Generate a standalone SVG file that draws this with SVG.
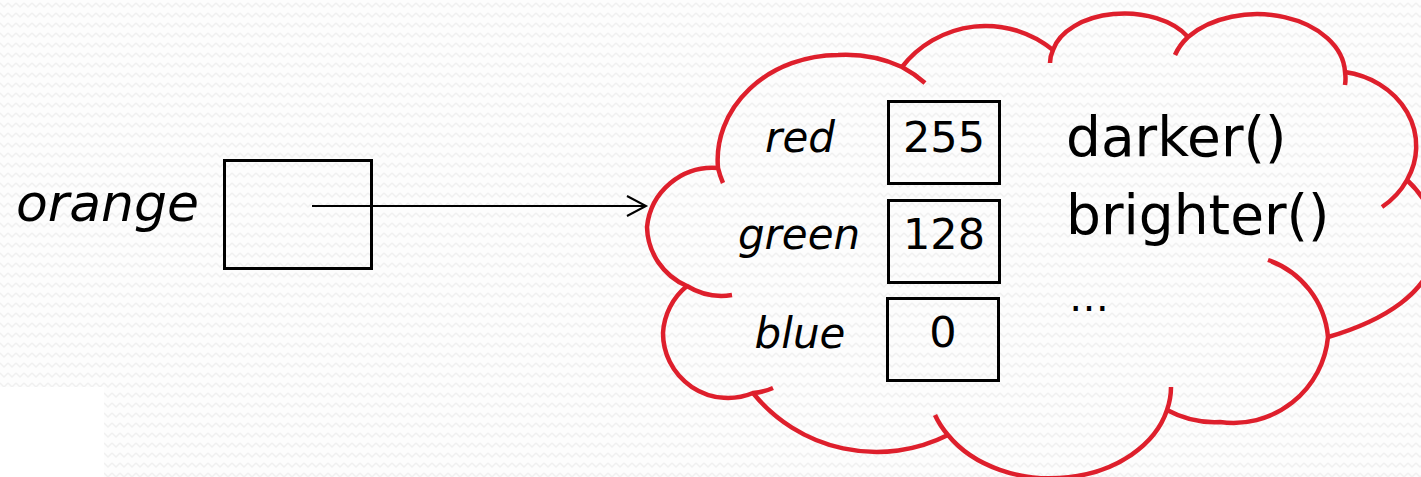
<svg xmlns="http://www.w3.org/2000/svg" width="1421" height="477" viewBox="0 0 1421 477">
  <defs>
    <pattern id="zigzag" width="8" height="10" patternUnits="userSpaceOnUse">
      <rect width="8" height="10" fill="#fdfdfd"/>
      <polyline points="0,3 4,7 8,3" fill="none" stroke="#f0f0f0" stroke-width="1.5"/>
    </pattern>
    <marker id="open-arrow" markerUnits="userSpaceOnUse" markerWidth="24" markerHeight="26" viewBox="-2 -2 24 26" refX="19" refY="11" orient="auto">
      <polyline points="0,1 19,11 0,21" fill="none" stroke="#000" stroke-width="2"/>
    </marker>
  </defs>
  <style>
    .t { font-family: "DejaVu Sans", Verdana, sans-serif; fill: #000; }
    .it { font-style: italic; }
    .mid { text-anchor: middle; }
    .box { fill: none; stroke: #000; stroke-width: 3; }
    .lobe { fill: none; stroke: #de1f2c; stroke-width: 4.5; }
    .wire { fill: none; stroke: #000; stroke-width: 2; }
  </style>

  <!-- backdrop -->
  <rect width="1421" height="477" fill="url(#zigzag)"/>
  <rect x="0" y="387" width="104" height="90" fill="#ffffff"/>

  <!-- variable holding the reference -->
  <g id="orange-var">
    <text class="t it" x="16" y="221" font-size="52">orange</text>
    <rect class="box" x="224.5" y="160.5" width="147" height="108"/>
  </g>

  <!-- the Color object -->
  <g id="color-object">
    <g id="cloud">
      <path class="lobe" d="M732,295 A66,66 0 0 1 687,286 A66,66 0 0 1 647,227 A66,66 0 0 1 718,168"/>
      <path class="lobe" d="M723,183 A121,105 0 0 1 718,168 A121,105 0 0 1 838,55 A121,105 0 0 1 902,67 A121,105 0 0 1 925,83"/>
      <path class="lobe" d="M902,67 A106,106 0 0 1 1053,50"/>
      <path class="lobe" d="M1050,63 A73,46 0 0 1 1053,50 A73,46 0 0 1 1188,37"/>
      <path class="lobe" d="M1175,55 A88,60 0 0 1 1188,37 A88,60 0 0 1 1345,72 A88,60 0 0 1 1345,85"/>
      <path class="lobe" d="M1345,72 A85,75 0 0 1 1407,180 A85,75 0 0 1 1382,207"/>
      <path class="lobe" d="M1407,180 C1455,225 1455,300 1328,337"/>
      <path class="lobe" d="M1268,260 A90,90 0 0 1 1328,337 A95,95 0 0 1 1220,422 A100,100 0 0 1 1167,410"/>
      <path class="lobe" d="M1171,387 A120,90 0 0 1 1167,410 A120,90 0 0 1 948,435 A120,90 0 0 1 935,415"/>
      <path class="lobe" d="M948,435 A159,159 0 0 1 753,393"/>
      <path class="lobe" d="M773,388 A65,65 0 0 1 753,393 A65,65 0 0 1 663,333 A65,65 0 0 1 687,286"/>
    </g>

    <g id="field-red">
      <text class="t it mid" x="800" y="152" font-size="42">red</text>
      <rect class="box" x="888.5" y="101.5" width="111" height="82"/>
      <text class="t mid" x="944" y="152" font-size="43">255</text>
    </g>
    <g id="field-green">
      <text class="t it mid" x="799" y="249" font-size="42">green</text>
      <rect class="box" x="888.5" y="200.5" width="111" height="82"/>
      <text class="t mid" x="944" y="249" font-size="43">128</text>
    </g>
    <g id="field-blue">
      <text class="t it mid" x="800" y="348" font-size="42">blue</text>
      <rect class="box" x="887.5" y="298.5" width="111" height="82"/>
      <text class="t mid" x="943" y="347" font-size="43">0</text>
    </g>

    <g id="methods">
      <text class="t" x="1066" y="156" font-size="55">darker()</text>
      <text class="t" x="1066" y="234" font-size="55">brighter()</text>
      <text class="t" x="1069" y="311" font-size="40">…</text>
    </g>
  </g>

  <!-- reference arrow -->
  <g id="connectors">
    <line class="wire" x1="312" y1="206" x2="646" y2="206" marker-end="url(#open-arrow)"/>
  </g>
</svg>
